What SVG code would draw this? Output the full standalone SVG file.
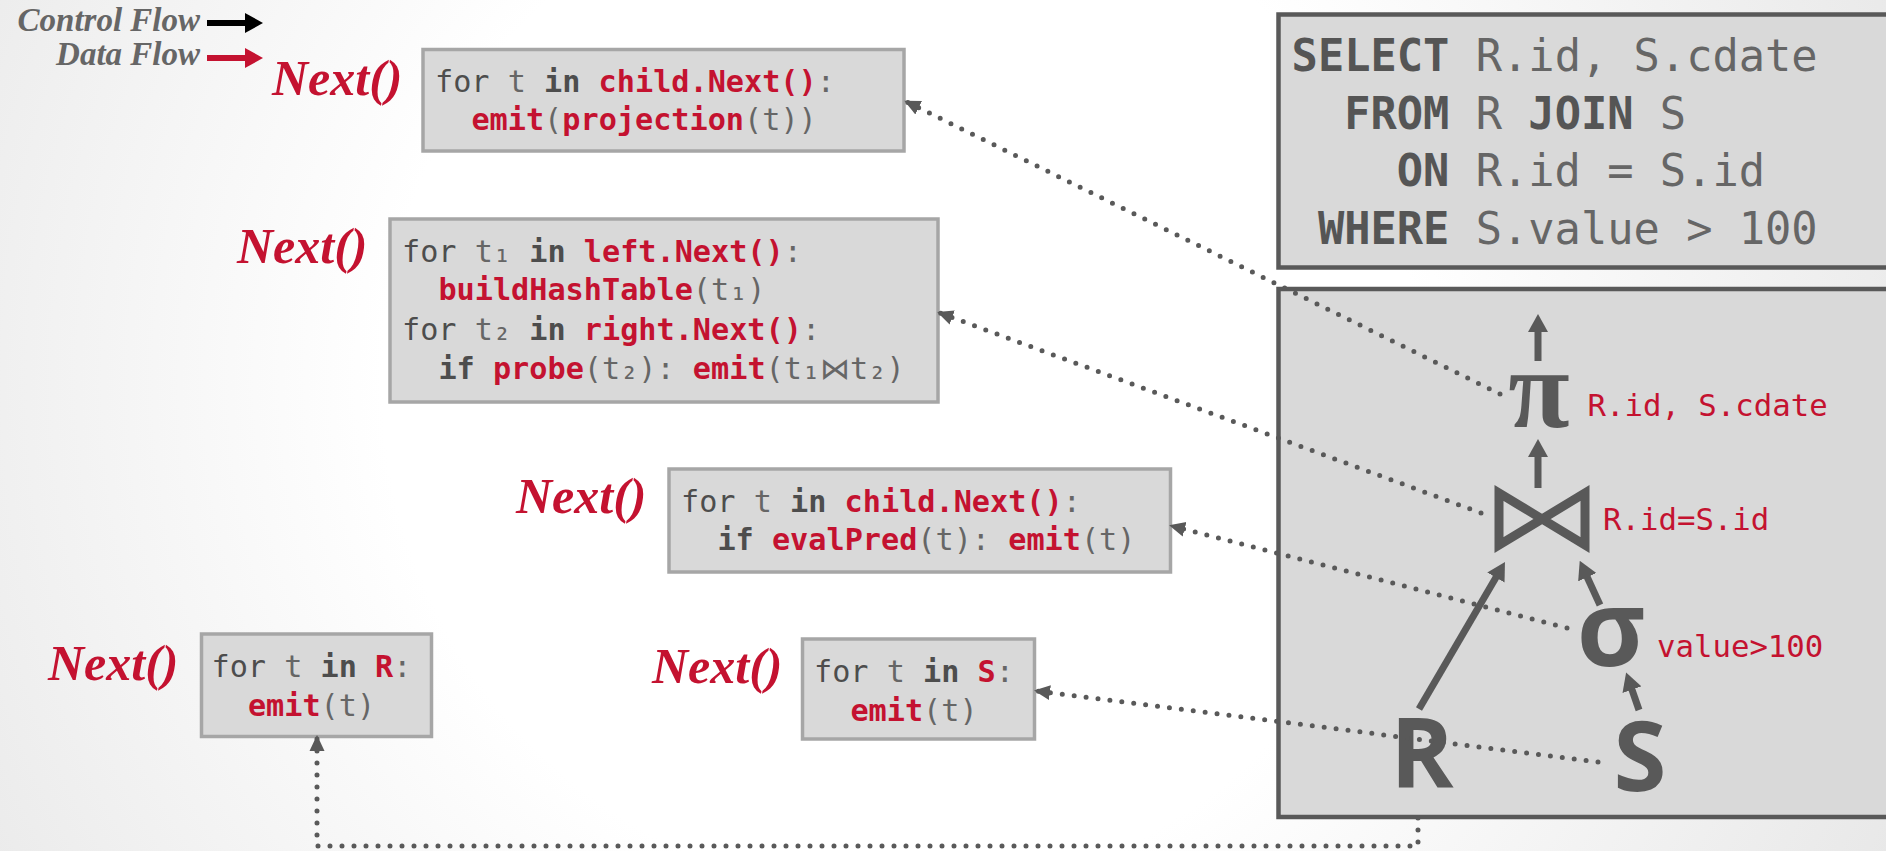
<svg xmlns="http://www.w3.org/2000/svg" width="1886" height="851" viewBox="0 0 1886 851">
<defs>
<radialGradient id="bg" cx="900" cy="380" r="1150" gradientUnits="userSpaceOnUse">
<stop offset="0" stop-color="#ffffff"/>
<stop offset="0.45" stop-color="#ffffff"/>
<stop offset="1" stop-color="#e6e6e6"/>
</radialGradient>
<marker id="hg" markerUnits="userSpaceOnUse" markerWidth="18" markerHeight="20" refX="3" refY="10" orient="auto"><path d="M0,0 L18,10 L0,20 Z" fill="#595959"/></marker>
<marker id="hk" markerUnits="userSpaceOnUse" markerWidth="18" markerHeight="20" refX="3" refY="10" orient="auto"><path d="M0,0 L18,10 L0,20 Z" fill="#000000"/></marker>
<marker id="hr" markerUnits="userSpaceOnUse" markerWidth="18" markerHeight="20" refX="3" refY="10" orient="auto"><path d="M0,0 L18,10 L0,20 Z" fill="#c41230"/></marker>
<marker id="hd" markerUnits="userSpaceOnUse" markerWidth="16" markerHeight="16" refX="13" refY="8" orient="auto"><path d="M0,0.5 L16,8 L0,15.5 Z" fill="#595959"/></marker>
<style>
.box{fill:#d9d9d9;stroke:#a6a6a6;stroke-width:3.5}
.panel{fill:#d9d9d9;stroke:#595959;stroke-width:4.5}
.code{font-family:"DejaVu Sans Mono","Liberation Mono",monospace;font-size:30.2px}
.kw{fill:#4d4d4d}
.kb{fill:#4d4d4d;font-weight:bold}
.v{fill:#666666}
.rd{fill:#c41230;font-weight:bold}
.next{font-family:"Liberation Serif",serif;font-style:italic;font-weight:bold;font-size:50px;fill:#c41230}
.legend{font-family:"Liberation Serif",serif;font-style:italic;font-weight:bold;font-size:33px;fill:#666666}
.sql{font-family:"DejaVu Sans Mono","Liberation Mono",monospace;font-size:43.7px;fill:#666666}
.sb{font-weight:bold;fill:#555555}
.lbl{font-family:"DejaVu Sans Mono","Liberation Mono",monospace;font-size:30.7px;fill:#c41230}
.sym{font-family:"Open Sans","DejaVu Sans",sans-serif;font-weight:bold;fill:#595959;text-anchor:middle}
.solid{stroke:#595959;stroke-width:7;fill:none;marker-end:url(#hg)}
.dot{stroke:#595959;stroke-width:5;fill:none;stroke-linecap:round;stroke-dasharray:0 12;marker-end:url(#hd)}
</style>
</defs>
<rect x="0" y="0" width="1886" height="851" fill="url(#bg)"/>

<g id="legend">
<text class="legend" x="200" y="31" text-anchor="end">Control Flow</text>
<text class="legend" x="200" y="65" text-anchor="end">Data Flow</text>
<line x1="207" y1="23" x2="248" y2="23" stroke="#000" stroke-width="6" marker-end="url(#hk)"/>
<line x1="207" y1="58" x2="248" y2="58" stroke="#c41230" stroke-width="6" marker-end="url(#hr)"/>
</g>

<g id="sql">
<rect class="panel" x="1278.5" y="14.5" width="620" height="253"/>
<text class="sql" x="1291.6" y="70.5"><tspan class="sb">SELECT</tspan> R.id, S.cdate</text>
<text class="sql" x="1344.2" y="128.5"><tspan class="sb">FROM</tspan> R <tspan class="sb">JOIN</tspan> S</text>
<text class="sql" x="1396.8" y="186"><tspan class="sb">ON</tspan> R.id = S.id</text>
<text class="sql" x="1317.9" y="243.5"><tspan class="sb">WHERE</tspan> S.value &gt; 100</text>
</g>

<g id="plan">
<rect class="panel" x="1278.5" y="289" width="620" height="528"/>
</g>

<g id="node-projection">
<text class="next" x="272" y="95">Next()</text>
<rect class="box" x="423" y="49.5" width="481" height="101.5"/>
<text class="code" x="435" y="92"><tspan class="kw">for</tspan><tspan class="v"> t </tspan><tspan class="kb">in</tspan> <tspan class="rd">child.Next()</tspan><tspan class="v">:</tspan></text>
<text class="code" x="471.4" y="130"><tspan class="rd">emit</tspan><tspan class="v">(</tspan><tspan class="rd">projection</tspan><tspan class="v">(t))</tspan></text>
</g>

<g id="node-join">
<text class="next" x="237" y="263">Next()</text>
<rect class="box" x="390" y="219" width="548" height="183"/>
<text class="code" x="402" y="262"><tspan class="kw">for</tspan><tspan class="v"> t₁ </tspan><tspan class="kb">in</tspan> <tspan class="rd">left.Next()</tspan><tspan class="v">:</tspan></text>
<text class="code" x="438.4" y="300"><tspan class="rd">buildHashTable</tspan><tspan class="v">(t₁)</tspan></text>
<text class="code" x="402" y="340"><tspan class="kw">for</tspan><tspan class="v"> t₂ </tspan><tspan class="kb">in</tspan> <tspan class="rd">right.Next()</tspan><tspan class="v">:</tspan></text>
<text class="code" x="438.4" y="379"><tspan class="kb">if</tspan> <tspan class="rd">probe</tspan><tspan class="v">(t₂): </tspan><tspan class="rd">emit</tspan><tspan class="v">(t₁⋈t₂)</tspan></text>
</g>

<g id="node-select">
<text class="next" x="516" y="513">Next()</text>
<rect class="box" x="669" y="469" width="501.5" height="103"/>
<text class="code" x="681" y="512"><tspan class="kw">for</tspan><tspan class="v"> t </tspan><tspan class="kb">in</tspan> <tspan class="rd">child.Next()</tspan><tspan class="v">:</tspan></text>
<text class="code" x="717.4" y="550"><tspan class="kb">if</tspan> <tspan class="rd">evalPred</tspan><tspan class="v">(t): </tspan><tspan class="rd">emit</tspan><tspan class="v">(t)</tspan></text>
</g>

<g id="node-scan-r">
<text class="next" x="48" y="680">Next()</text>
<rect class="box" x="201.5" y="634" width="230" height="102.5"/>
<text class="code" x="211.5" y="677"><tspan class="kw">for</tspan><tspan class="v"> t </tspan><tspan class="kb">in</tspan> <tspan class="rd">R</tspan><tspan class="v">:</tspan></text>
<text class="code" x="247.9" y="716"><tspan class="rd">emit</tspan><tspan class="v">(t)</tspan></text>
</g>

<g id="node-scan-s">
<text class="next" x="652" y="683">Next()</text>
<rect class="box" x="802.5" y="639" width="232" height="100"/>
<text class="code" x="814" y="682"><tspan class="kw">for</tspan><tspan class="v"> t </tspan><tspan class="kb">in</tspan> <tspan class="rd">S</tspan><tspan class="v">:</tspan></text>
<text class="code" x="850.4" y="721"><tspan class="rd">emit</tspan><tspan class="v">(t)</tspan></text>
</g>

<g id="op-projection">
<text x="1539" y="427" text-anchor="middle" style="font-family:'Liberation Serif',serif;font-weight:bold;font-size:112px;fill:#595959">π</text>
<text class="lbl" x="1587.5" y="416">R.id, S.cdate</text>
</g>
<g id="op-join">
<path d="M1499,493 L1499,545 L1585,493 L1585,545 Z" fill="none" stroke="#595959" stroke-width="9"/>
<text class="lbl" x="1603" y="530">R.id=S.id</text>
</g>
<g id="op-select">
<text class="sym" x="1611" y="666" style="font-size:105px">σ</text>
<text class="lbl" x="1657" y="657">value&gt;100</text>
</g>
<g id="table-r">
<text class="sym" x="1422" y="788" style="font-size:96px">R</text>
</g>
<g id="table-s">
<text class="sym" x="1640" y="791" style="font-size:96px">S</text>
</g>

<g id="connectors">
<line class="solid" x1="1538" y1="361" x2="1538" y2="329"/>
<line class="solid" x1="1538" y1="488" x2="1538" y2="454"/>
<line class="solid" x1="1419" y1="709" x2="1497.4" y2="574.9"/>
<line class="solid" x1="1600" y1="605" x2="1586" y2="574.5"/>
<line class="solid" x1="1639" y1="710" x2="1631" y2="686.8"/>
<path class="dot" d="M1500,394 L907,102"/>
<path class="dot" d="M1481,513 L940,313"/>
<path class="dot" d="M1567,628 L1172,526"/>
<path class="dot" d="M1598,762 L1037,691"/>
<path class="dot" d="M1418,818 L1418,846 L317,846 L317,738"/>
</g>
</svg>
